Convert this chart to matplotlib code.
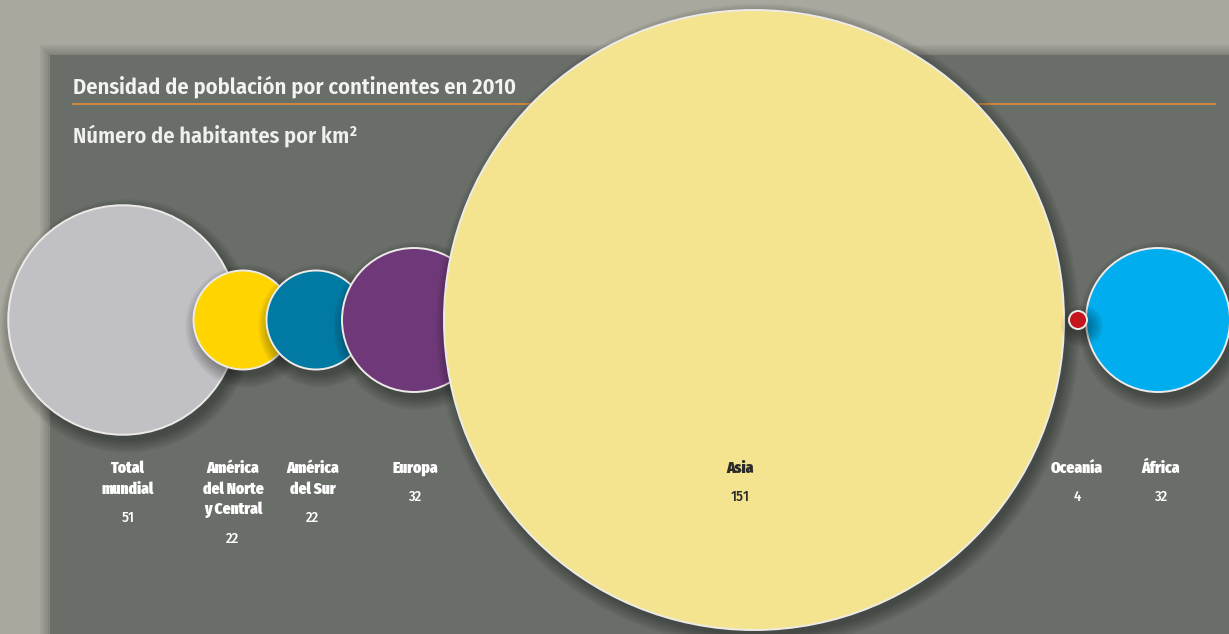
import matplotlib
matplotlib.use("Agg")
import matplotlib.pyplot as plt
from matplotlib.patches import Circle, Rectangle
from matplotlib import font_manager as fm

# ---- data ----
categories = ["Total\nmundial", "América\ndel Norte\ny Central", "América\ndel Sur",
              "Europa", "Asia", "Oceanía", "África"]
values = [51, 22, 22, 32, 151, 4, 32]
colors = ["#c1c0c5", "#ffd400", "#0079a3", "#6f3979", "#f4e48f", "#c5161d", "#00adee"]
title = "Densidad de población por continentes en 2010"
subtitle = "Número de habitantes por km²"

# ---- layout (pixels) ----
W, H = 1229, 634
cx = [123, 243, 316, 414, 754, 1078, 1158]
cy = 320
label_x = [128, 233, 313, 415, 740, 1077, 1161]
zorders = [2, 3, 4, 5, 6, 8, 7]
K, RMAX = 2.25, 310

names = {f.name for f in fm.fontManager.ttflist}
def pick(*cands):
    for c in cands:
        if c in names:
            return c
    return "DejaVu Sans"
title_font = pick("Fira Sans Condensed", "PT Sans Narrow", "Roboto Condensed",
                  "Open Sans Condensed", "Barlow Condensed", "Open Sans")
label_font = pick("Fira Sans Extra Condensed", "Barlow Condensed", "Roboto Condensed",
                  "Open Sans Condensed", "PT Sans Narrow", "Archivo Narrow", "Open Sans")
value_font = pick("Fira Sans Condensed", "PT Sans Narrow", "Roboto Condensed",
                  "Barlow Condensed", "Open Sans")

fig = plt.figure(figsize=(W / 100, H / 100), dpi=100, facecolor="#a9a89f")
ax = fig.add_axes([0, 0, 1, 1])
ax.set_xlim(0, W)
ax.set_ylim(H, 0)
ax.axis("off")

# panel shadow + panel
for i in range(5):
    d = 10 - 2 * i
    ax.add_patch(Rectangle((50 - d, 55 - d), W, H, color="black", alpha=0.045, lw=0, zorder=0))
ax.add_patch(Rectangle((50, 55), W, H, color="#6a6e68", lw=0, zorder=0.5))

# title line
ax.plot([73, 1215], [103.5, 103.5], color="#d58a3a", lw=1.3, zorder=1)

t = ax.text(73, 87, title, color="#f3f3f0", fontsize=15, family=title_font,
            fontweight="semibold", va="center", ha="left", zorder=1)
s = ax.text(73, 136, subtitle, color="#f0f0ec", fontsize=12, family=title_font,
            fontweight="semibold", va="center", ha="left", zorder=1)
fig.canvas.draw()
r = fig.canvas.get_renderer()
for txt, target in [(t, 444), (s, 285)]:
    w = txt.get_window_extent(r).width
    txt.set_fontsize(txt.get_fontsize() * target / w)

# circles
for i, v in enumerate(values):
    rad = min(K * v, RMAX)
    z = zorders[i]
    for j in range(7):
        ax.add_patch(Circle((cx[i] + 4, cy + 6), rad + 12 - 2 * j, color="black",
                            alpha=0.05, lw=0, zorder=z - 0.5))
    ax.add_patch(Circle((cx[i], cy), rad, facecolor=colors[i], edgecolor="#ecebe8",
                        lw=1.4, zorder=z))

# labels
for i, (lab, v) in enumerate(zip(categories, values)):
    lines = lab.split("\n")
    col = "#2a2a28" if lab == "Asia" else "white"
    for k, ln in enumerate(lines):
        ax.text(label_x[i], 468 + 21 * k, ln, color=col, fontsize=12, family=label_font,
                fontweight="black", ha="center", va="center", zorder=10)
    ax.text(label_x[i], 468 + 21 * len(lines) + 8, str(v), color=col, fontsize=10.5,
            family=value_font, fontweight="medium", ha="center", va="center", zorder=10)

fig.savefig("out.png", dpi=100, facecolor=fig.get_facecolor())
